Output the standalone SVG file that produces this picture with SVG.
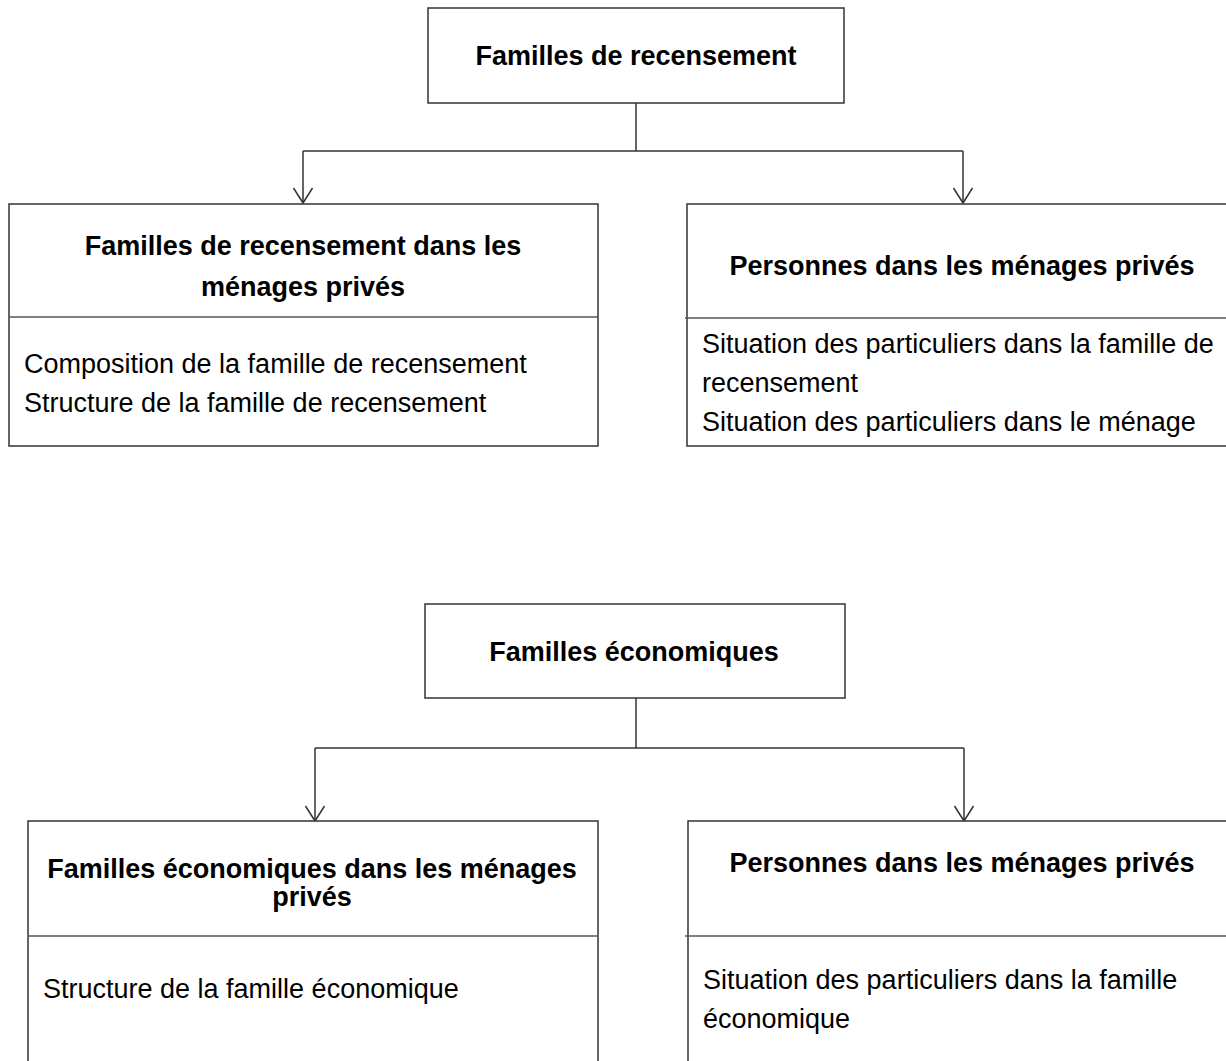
<svg xmlns="http://www.w3.org/2000/svg" width="1226" height="1061" viewBox="0 0 1226 1061">
<style>
.box{fill:#fff;stroke:#333;stroke-width:1.5}
.div{stroke:#555;stroke-width:1.5}
.con{fill:none;stroke:#333;stroke-width:1.5}
.t{font-family:"Liberation Sans",Arial,sans-serif;font-size:27px;fill:#000}
.b{font-weight:bold;text-anchor:middle}
</style>
<defs>
<marker id="arr" markerUnits="userSpaceOnUse" viewBox="-12 -12 24 24" markerWidth="24" markerHeight="24" refX="0" refY="0" orient="auto" overflow="visible">
<path d="M-15,-9.5 L0,0 L-15,9.5" fill="none" stroke="#333" stroke-width="1.5"/>
</marker>
</defs>
<rect width="1226" height="1061" fill="#fff"/>
<g id="connectors">
<path class="con" d="M636,103 V151"/>
<path class="con" d="M303,151 H963"/>
<path class="con" d="M303,151 V203" marker-end="url(#arr)"/>
<path class="con" d="M963,151 V203" marker-end="url(#arr)"/>
<path class="con" d="M636,698 V748"/>
<path class="con" d="M315,748 H964"/>
<path class="con" d="M315,748 V821" marker-end="url(#arr)"/>
<path class="con" d="M964,748 V821" marker-end="url(#arr)"/>
</g>
<g id="n1">
<rect class="box" x="428" y="8" width="416" height="95"/>
<text class="t b" x="636" y="65">Familles de recensement</text>
</g>
<g id="n2">
<rect class="box" x="9" y="204" width="589" height="242"/>
<line class="div" x1="9" y1="317" x2="598" y2="317"/>
<text class="t b" x="303" y="255">Familles de recensement dans les</text>
<text class="t b" x="303" y="296">ménages privés</text>
<text class="t" x="24" y="373">Composition de la famille de recensement</text>
<text class="t" x="24" y="412">Structure de la famille de recensement</text>
</g>
<g id="n3">
<path class="box" d="M1230,204 H687 V446 H1230"/>
<line class="div" x1="685" y1="318" x2="1230" y2="318"/>
<text class="t b" x="962" y="275">Personnes dans les ménages privés</text>
<text class="t" x="702" y="353">Situation des particuliers dans la famille de</text>
<text class="t" x="702" y="392">recensement</text>
<text class="t" x="702" y="431">Situation des particuliers dans le ménage</text>
</g>
<g id="n4">
<rect class="box" x="425" y="604" width="420" height="94"/>
<text class="t b" x="634" y="661">Familles économiques</text>
</g>
<g id="n5">
<path class="box" d="M28,1070 V821 H598 V1070"/>
<line class="div" x1="28" y1="936" x2="598" y2="936"/>
<text class="t b" x="312" y="878">Familles économiques  dans les ménages</text>
<text class="t b" x="312" y="906">privés</text>
<text class="t" x="43" y="998">Structure de la famille économique</text>
</g>
<g id="n6">
<path class="box" d="M1230,821 H688 V1070"/>
<line class="div" x1="685" y1="936" x2="1230" y2="936"/>
<text class="t b" x="962" y="872">Personnes dans les ménages privés</text>
<text class="t" x="703" y="989">Situation des particuliers dans la famille</text>
<text class="t" x="703" y="1028">économique</text>
</g>
</svg>
